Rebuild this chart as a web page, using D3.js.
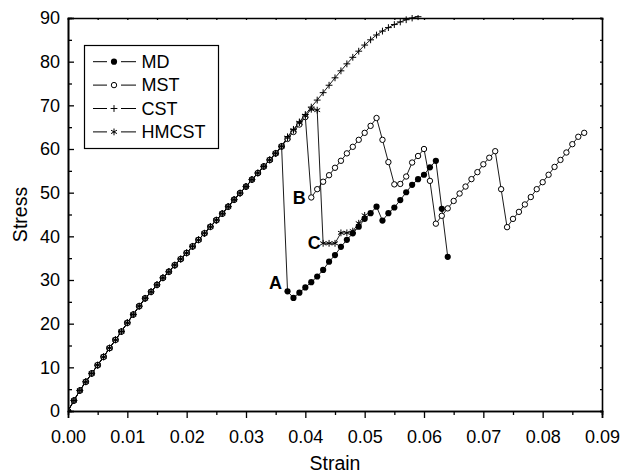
<!DOCTYPE html>
<html>
<head>
<meta charset="utf-8">
<script src="https://cdn.jsdelivr.net/npm/d3@7"></script>
<style>
  body { margin: 0; background: #fff; }
  svg { font-family: "Liberation Sans", Arial, sans-serif; }
</style>
</head>
<body>
<div id="chart"></div>
<script>
// elastic part, shared by all four curves
var strainCommon = [0.000, 0.001, 0.002, 0.003, 0.004, 0.005, 0.006, 0.007, 0.008, 0.009,
                    0.010, 0.011, 0.012, 0.013, 0.014, 0.015, 0.016, 0.017, 0.018, 0.019,
                    0.020, 0.021, 0.022, 0.023, 0.024, 0.025, 0.026, 0.027, 0.028, 0.029,
                    0.030, 0.031, 0.032, 0.033, 0.034, 0.035, 0.036];
var stressCommon = [0, 2.4, 4.7, 6.7, 8.6, 10.5, 12.4, 14.4, 16.3, 18.2,
                    20.2, 22.1, 24.0, 25.8, 27.3, 28.9, 30.5, 31.9, 33.4, 34.8,
                    36.2, 37.7, 39.2, 40.7, 42.2, 43.7, 45.2, 46.8, 48.4, 49.9,
                    51.4, 53.0, 54.5, 56.0, 57.5, 59.0, 60.6];

// MD
var mdStrain = [0.037, 0.038, 0.039, 0.040, 0.041, 0.042, 0.043, 0.044, 0.045, 0.046,
                0.047, 0.048, 0.049, 0.050, 0.051, 0.052, 0.053, 0.054, 0.055, 0.056,
                0.057, 0.058, 0.059, 0.060, 0.061, 0.062, 0.063, 0.064];
var mdStress = [27.4, 25.9, 27.1, 28.3, 29.5, 30.8, 32.3, 34.2, 35.7, 37.6,
                39.2, 40.7, 42.2, 44.0, 45.3, 46.8, 43.6, 45.3, 46.6, 48.3,
                50.1, 51.8, 53.1, 54.1, 55.8, 57.3, 46.3, 35.3];

// MST
var mstStrain = [0.037, 0.038, 0.039, 0.040, 0.041, 0.042, 0.043, 0.044, 0.045, 0.046,
                 0.047, 0.048, 0.049, 0.050, 0.051, 0.052, 0.053, 0.054, 0.055, 0.056,
                 0.057, 0.058, 0.059, 0.060, 0.061, 0.062, 0.063, 0.064, 0.065, 0.066,
                 0.067, 0.068, 0.069, 0.070, 0.071, 0.072, 0.073, 0.074, 0.075, 0.076,
                 0.077, 0.078, 0.079, 0.080, 0.081, 0.082, 0.083, 0.084, 0.085, 0.086,
                 0.087];
var mstStress = [62.3, 63.9, 65.6, 67.3, 48.9, 50.8, 52.5, 54.0, 55.7, 57.3,
                 59.0, 60.5, 62.1, 63.7, 65.3, 67.1, 62.1, 57.0, 51.9, 52.0,
                 53.7, 56.9, 58.4, 60.0, 52.7, 42.9, 44.7, 46.4, 48.1, 49.8,
                 51.4, 53.1, 54.7, 56.5, 58.0, 59.5, 50.8, 42.1, 44.0, 45.6,
                 47.3, 49.0, 50.8, 52.4, 54.1, 55.9, 57.5, 59.2, 61.1, 62.8,
                 63.7];

// CST
var cstStrain = [0.037, 0.038, 0.039, 0.040, 0.041, 0.042, 0.043, 0.044, 0.045, 0.046,
                 0.047, 0.048, 0.049, 0.050, 0.051, 0.052, 0.053, 0.054, 0.055, 0.056,
                 0.057, 0.058, 0.059];
var cstStress = [62.8, 64.5, 66.2, 67.9, 69.6, 71.2, 72.9, 74.6, 76.3, 77.9,
                 79.5, 81.0, 82.4, 83.8, 85.0, 86.1, 87.0, 87.8, 88.5, 89.1,
                 89.6, 90.0, 90.3];

// HMCST
var hmStrain = [0.037, 0.038, 0.039, 0.040, 0.041, 0.042, 0.043, 0.044, 0.045, 0.046,
                0.047, 0.048, 0.049, 0.050];
var hmStress = [62.6, 64.3, 66.0, 67.6, 69.1, 68.9, 38.4, 38.4, 38.4, 40.8,
                40.8, 41.2, 43.0, 44.8];

var seriesNames = ["MD", "MST", "CST", "HMCST"];
var seriesMarks = ["dot", "ring", "plus", "star"];

var noteNames = ["A", "B", "C"];
var noteStrain = [0.037, 0.041, 0.043];
var noteStress = [27.4, 48.9, 38.4];

var xTicks = [0, 0.01, 0.02, 0.03, 0.04, 0.05, 0.06, 0.07, 0.08, 0.09];
var yTicks = [0, 10, 20, 30, 40, 50, 60, 70, 80, 90];

// ------------------------------------------------------------

var chartW = 622, chartH = 474;
var plotL = 68, plotR = 602, plotT = 18, plotB = 411;

var svg = d3.select("#chart").append("svg")
    .attr("width", chartW)
    .attr("height", chartH);

var x = d3.scaleLinear().domain([0, 0.09]).range([plotL, plotR]);
var y = d3.scaleLinear().domain([0, 90]).range([plotB, plotT]);

var build = function(xs, ys) {
    var pts = [];
    xs.forEach(function(v, i) { pts.push({ x: v, y: ys[i] }); });
    return pts;
};
var common = build(strainCommon, stressCommon);
var series = [
    common.concat(build(mdStrain, mdStress)),
    common.concat(build(mstStrain, mstStress)),
    common.concat(build(cstStrain, cstStress)),
    common.concat(build(hmStrain, hmStress))
];

svg.append("defs").append("clipPath").attr("id", "plot-clip")
  .append("rect")
    .attr("x", plotL).attr("y", plotT - 3)
    .attr("width", plotR - plotL).attr("height", plotB - plotT + 3);

// draw one marker of a given kind at (cx, cy)
var marker = function(g, kind, cx, cy) {
    if (kind === "dot") {
        g.append("circle").attr("cx", cx).attr("cy", cy).attr("r", 3.1)
            .attr("fill", "#000");
    } else if (kind === "ring") {
        g.append("circle").attr("cx", cx).attr("cy", cy).attr("r", 2.7)
            .attr("fill", "#fff").attr("stroke", "#000").attr("stroke-width", 1);
    } else if (kind === "plus") {
        var s = 3.4;
        g.append("path")
            .attr("d", "M" + (cx - s) + "," + cy + "H" + (cx + s) +
                       "M" + cx + "," + (cy - s) + "V" + (cy + s))
            .attr("stroke", "#000").attr("stroke-width", 1).attr("fill", "none");
    } else if (kind === "star") {
        var r = 3.4, dx = r * 0.87, dy = r * 0.5;
        g.append("path")
            .attr("d", "M" + cx + "," + (cy - r) + "V" + (cy + r) +
                       "M" + (cx - dx) + "," + (cy - dy) + "L" + (cx + dx) + "," + (cy + dy) +
                       "M" + (cx - dx) + "," + (cy + dy) + "L" + (cx + dx) + "," + (cy - dy))
            .attr("stroke", "#000").attr("stroke-width", 1).attr("fill", "none");
    }
};

var plot = svg.append("g").attr("clip-path", "url(#plot-clip)");

var line = d3.line()
    .x(function(d) { return x(d.x); })
    .y(function(d) { return y(d.y); });

series.forEach(function(pts, i) {
    plot.append("path")
        .datum(pts)
        .attr("d", line)
        .attr("fill", "none")
        .attr("stroke", "#000")
        .attr("stroke-width", 0.9);
});
series.forEach(function(pts, i) {
    var g = plot.append("g").attr("class", "marks-" + seriesNames[i]);
    pts.forEach(function(d) {
        marker(g, seriesMarks[i], x(d.x), y(d.y));
    });
});

// axes: x ticks point out, y ticks point in
svg.append("g")
    .attr("transform", "translate(0," + plotB + ")")
    .call(d3.axisBottom(x).tickValues(xTicks).tickSize(7).tickPadding(12)
          .tickFormat(d3.format(".2f")));
svg.append("g")
    .attr("transform", "translate(0," + plotB + ")")
    .call(d3.axisBottom(x).tickValues(d3.range(0.005, 0.09, 0.01)).tickSize(4)
          .tickFormat(""));
svg.append("g")
    .attr("transform", "translate(" + plotL + ",0)")
    .call(d3.axisLeft(y).tickValues(yTicks).tickSize(-6).tickPadding(8));
svg.append("g")
    .attr("transform", "translate(" + plotL + ",0)")
    .call(d3.axisLeft(y).tickValues(d3.range(5, 90, 10)).tickSize(-4).tickFormat(""));

// mirrored axes with small ticks
svg.append("g")
    .attr("transform", "translate(0," + plotT + ")")
    .call(d3.axisTop(x).tickValues(d3.range(0, 0.0901, 0.005)).tickSize(-2).tickFormat(""));
svg.append("g")
    .attr("transform", "translate(" + plotR + ",0)")
    .call(d3.axisRight(y).tickValues(d3.range(0, 90.1, 5)).tickSize(-2).tickFormat(""));

svg.selectAll(".domain").attr("stroke", "#000").attr("stroke-width", 1.6);
svg.selectAll(".tick line").attr("stroke", "#000").attr("stroke-width", 1.3);
svg.selectAll(".tick text")
    .attr("fill", "#000")
    .style("font-size", "18px")
    .style("font-family", "'Liberation Sans', Arial, sans-serif");

// axis titles
svg.append("text")
    .attr("x", (plotL + plotR) / 2)
    .attr("y", 470)
    .attr("text-anchor", "middle")
    .style("font-size", "19.5px")
    .text("Strain");
svg.append("text")
    .attr("transform", "translate(27," + ((plotT + plotB) / 2) + ") rotate(-90)")
    .attr("text-anchor", "middle")
    .style("font-size", "19.5px")
    .text("Stress");

// A, B, C notes
var noteShift = [[-5.5, -8], [-5.5, 1], [-2.5, 0]];
noteNames.forEach(function(n, i) {
    svg.append("text")
        .attr("x", x(noteStrain[i]) + noteShift[i][0])
        .attr("y", y(noteStress[i]) + noteShift[i][1])
        .attr("text-anchor", "end")
        .attr("dominant-baseline", "central")
        .style("font-size", "18px")
        .style("font-weight", "bold")
        .text(n);
});

// legend
var legend = svg.append("g");
legend.append("rect")
    .attr("x", 84.5).attr("y", 45.5)
    .attr("width", 134).attr("height", 103)
    .attr("fill", "#fff").attr("stroke", "#000").attr("stroke-width", 1.2);
seriesNames.forEach(function(name, i) {
    var ly = 61.7 + i * 23.4;
    legend.append("line").attr("x1", 93).attr("x2", 107).attr("y1", ly).attr("y2", ly)
        .attr("stroke", "#000").attr("stroke-width", 1);
    legend.append("line").attr("x1", 121).attr("x2", 136).attr("y1", ly).attr("y2", ly)
        .attr("stroke", "#000").attr("stroke-width", 1);
    marker(legend, seriesMarks[i], 114, ly);
    legend.append("text")
        .attr("x", 141.5).attr("y", ly)
        .attr("dominant-baseline", "central")
        .style("font-size", "18px")
        .text(name);
});
</script>
</body>
</html>
